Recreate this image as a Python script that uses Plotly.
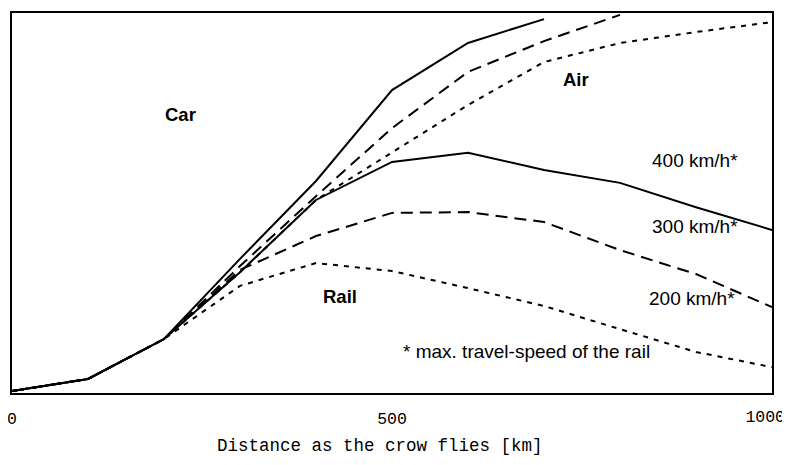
import plotly.graph_objects as go

# Distance as the crow flies [km]
km_trunk = [0, 100, 200]
y_trunk = [0.5, 3.7, 14.2]

km_400_upper = km_trunk + [300, 400, 500, 600, 700]
y_400_upper = y_trunk + [35.3, 55.8, 79.7, 92.1, 98.4]

km_300_upper = km_trunk + [300, 400, 500, 600, 700, 800]
y_300_upper = y_trunk + [33.4, 51.8, 69.7, 84.5, 92.6, 99.5]

km_200_upper = km_trunk + [300, 400, 500, 600, 700, 800, 900, 1000]
y_200_upper = y_trunk + [31.8, 50.8, 63.4, 75.8, 87.1, 92.1, 95.0, 97.6]

km_400_lower = km_trunk + [300, 400, 500, 600, 700, 800, 900, 1000]
y_400_lower = y_trunk + [31.8, 50.8, 60.8, 63.2, 58.7, 55.3, 48.9, 42.9]

km_300_lower = km_trunk + [300, 400, 500, 600, 700, 800, 900, 1000]
y_300_lower = y_trunk + [32.4, 41.3, 47.4, 47.6, 45.0, 37.6, 31.3, 22.6]

km_200_lower = km_trunk + [300, 400, 500, 600, 700, 800, 900, 1000]
y_200_lower = y_trunk + [28.2, 34.2, 32.1, 27.6, 22.9, 16.8, 10.8, 6.8]

tick_vals = [0, 500, 1000]
tick_text = ["0", "500", "1000"]

SOLID = "solid"
DASH = "12px,7px"
DOT = "5px,6px"

series = [
    (km_400_upper, y_400_upper, SOLID),
    (km_300_upper, y_300_upper, DASH),
    (km_200_upper, y_200_upper, DOT),
    (km_400_lower, y_400_lower, SOLID),
    (km_300_lower, y_300_lower, DASH),
    (km_200_lower, y_200_lower, DOT),
]

fig = go.Figure()
for xs, ys, dash in series:
    fig.add_trace(go.Scatter(x=xs, y=ys, mode="lines",
                             line=dict(color="black", width=2, dash=dash),
                             showlegend=False, hoverinfo="skip"))

sans = "Liberation Sans, Arial, sans-serif"
mono = "Liberation Mono, Courier New, monospace"
labels = [
    ("Car", 199, 73.2, True),
    ("Air", 722, 82.4, True),
    ("Rail", 406, 25.3, True),
    ("400 km/h*", 840, 61.3, False),
    ("300 km/h*", 840, 43.9, False),
    ("200 km/h*", 836, 25.0, False),
    ("* max. travel-speed of the rail", 512, 10.8, False),
]
for txt, x, y, bold in labels:
    fig.add_annotation(x=x, y=y, xref="x", yref="y", text=("<b>%s</b>" % txt) if bold else txt,
                       showarrow=False, xanchor="left", yanchor="middle",
                       font=dict(family=sans, size=18.5 if bold else 19, color="black"))

fig.add_annotation(x=0.484, y=-0.139, xref="paper", yref="paper",
                   text="Distance as the crow flies [km]", showarrow=False,
                   xanchor="center", yanchor="middle",
                   font=dict(family=mono, size=17.5, color="black"))

tickfont = dict(family=mono, size=16.5, color="black")
fig.update_layout(
    xaxis=dict(range=[0, 1000], tickvals=tick_vals[:2], ticktext=tick_text[:2],
               showgrid=False, zeroline=False, showline=True, mirror=True,
               linecolor="black", linewidth=2, ticks="", ticklabelstandoff=9,
               automargin=False, ticklabeloverflow="allow", tickfont=tickfont),
    # last tick label sits a little inside the frame, as in the original
    xaxis2=dict(range=[0, 1000], overlaying="x", side="bottom", anchor="y",
                tickvals=tick_vals[2:], ticktext=tick_text[2:],
                showgrid=False, zeroline=False, showline=False, ticks="",
                ticklabelposition="outside left",
                ticklabelstandoff=11, ticklabelshift=13, automargin=False,
                ticklabeloverflow="allow", tickfont=tickfont),
    yaxis=dict(range=[0, 100], showgrid=False, zeroline=False, showline=True, mirror=True,
               linecolor="black", linewidth=2, showticklabels=False, ticks="",
               automargin=False),
)
fig.add_trace(go.Scatter(x=[], y=[], xaxis="x2", yaxis="y", showlegend=False, hoverinfo="skip"))

# page body has an 8px default margin; figure is sized to fill the rest of the window
fig.update_layout(width=782, height=457, margin=dict(l=4, r=18, t=5, b=72, autoexpand=False),
                  plot_bgcolor="white", paper_bgcolor="white")

fig.write_html("out.html")
